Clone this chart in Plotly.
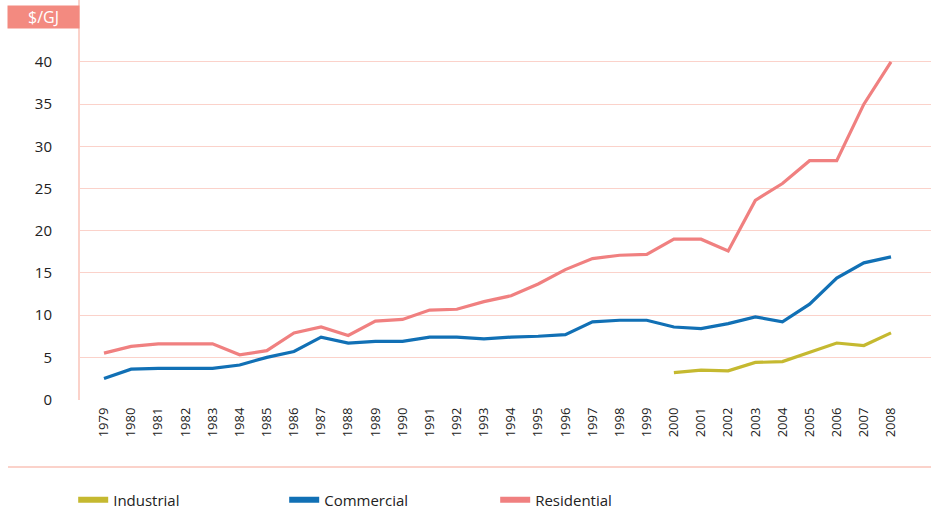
import plotly.graph_objects as go

years = list(range(1979, 2009))
residential = [5.5, 6.3, 6.6, 6.6, 6.6, 5.3, 5.8, 7.9, 8.6, 7.6, 9.3, 9.5, 10.6, 10.7,
               11.6, 12.3, 13.7, 15.4, 16.7, 17.1, 17.2, 19.0, 19.0, 17.6, 23.6, 25.6,
               28.3, 28.3, 35.0, 40.0]
commercial = [2.5, 3.6, 3.7, 3.7, 3.7, 4.1, 5.0, 5.7, 7.4, 6.7, 6.9, 6.9, 7.4, 7.4,
              7.2, 7.4, 7.5, 7.7, 9.2, 9.4, 9.4, 8.6, 8.4, 9.0, 9.8, 9.2, 11.3, 14.4,
              16.2, 16.9]
industrial_years = list(range(2000, 2009))
industrial = [3.2, 3.5, 3.4, 4.4, 4.5, 5.6, 6.7, 6.4, 7.9]
y_ticks = [0, 5, 10, 15, 20, 25, 30, 35, 40]

C_RES = "#f08080"
C_COM = "#1170b5"
C_IND = "#c5b930"
GRID = "#fbd2ca"
FONT = "Open Sans, DejaVu Sans, sans-serif"

fig = go.Figure()
fig.add_trace(go.Scatter(x=years, y=residential, mode="lines", line=dict(color=C_RES, width=3.2),
                         showlegend=False, hoverinfo="skip"))
fig.add_trace(go.Scatter(x=years, y=commercial, mode="lines", line=dict(color=C_COM, width=3.2),
                         showlegend=False, hoverinfo="skip"))
fig.add_trace(go.Scatter(x=industrial_years, y=industrial, mode="lines", line=dict(color=C_IND, width=3.2),
                         showlegend=False, hoverinfo="skip"))
# legend-only entries
for name, col in [("Industrial", C_IND), ("Commercial", C_COM), ("Residential", C_RES)]:
    fig.add_trace(go.Scatter(x=[None], y=[None], mode="lines", name=name,
                             line=dict(color=col, width=6)))

fig.update_layout(
    width=931, height=515,
    margin=dict(l=80, r=0, t=0, b=115, autoexpand=False),
    paper_bgcolor="white", plot_bgcolor="white",
    font=dict(family=FONT, size=14, color="#222"),
    xaxis=dict(range=[1978.116, 2009.474], tickvals=years, ticktext=[str(y) for y in years],
               tickangle=-90, showgrid=False, zeroline=False, showline=False,
               tickfont=dict(size=13, color="#222"), ticks="", ticklabelstandoff=4),
    yaxis=dict(range=[-0.05, 47.34], tickvals=y_ticks, showgrid=True, gridcolor=GRID, gridwidth=1,
               zeroline=False, showline=True, linecolor=GRID, linewidth=2,
               tickfont=dict(size=15, color="#222"), ticks="", ticklabelstandoff=23),
    legend=dict(orientation="h", x=-0.008, xanchor="left", y=-0.25, yanchor="middle",
                entrywidth=166, entrywidthmode="pixels", traceorder="normal",
                font=dict(family=FONT, size=15, color="#222")),
    showlegend=True,
)

fig.add_annotation(text="$/GJ", xref="paper", yref="paper", x=0, y=1, xanchor="right", yanchor="top",
                   yshift=-5, showarrow=False, bgcolor="#f38a80", width=69, height=20,
                   font=dict(family=FONT, size=16, color="white"), borderpad=1)
fig.add_shape(type="line", xref="paper", yref="paper", x0=-0.0846, x1=1, y0=-0.1675, y1=-0.1675,
              line=dict(color=GRID, width=2))

fig.write_html("out.html", config={"displayModeBar": False},
               post_script="document.body.style.margin='0';document.body.style.overflow='hidden';")
